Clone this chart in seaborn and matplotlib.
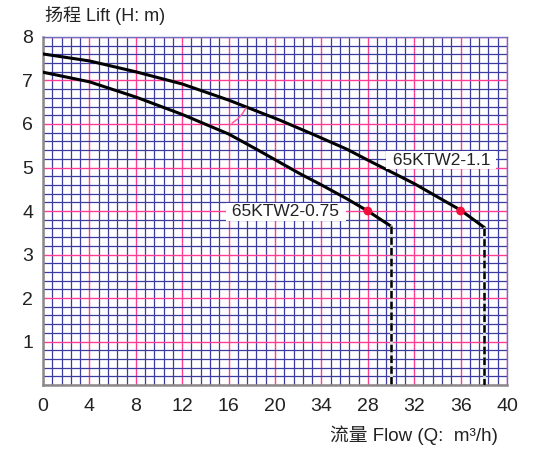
import numpy as np
import pandas as pd
import seaborn as sns
import matplotlib
matplotlib.use("Agg")
import matplotlib.pyplot as plt

# curve data (Q in m3/h, H in m)
q_075 = [0, 4, 8, 12, 16, 18.4, 20.4, 22.2, 24, 26.2, 28, 30.0]
h_075 = [7.19, 6.97, 6.62, 6.22, 5.77, 5.42, 5.12, 4.85, 4.6, 4.28, 4.0, 3.65]
q_11 = [0, 4, 8, 12, 16, 20.4, 23.3, 26.2, 28, 32, 36, 38.05]
h_11 = [7.61, 7.45, 7.2, 6.92, 6.55, 6.09, 5.76, 5.42, 5.17, 4.63, 4.02, 3.62]
cutoff_q = [30.0, 38.05]
cutoff_h = [3.65, 3.62]
duty_q = [28, 36]
duty_h = [4.0, 4.0]
labels = ["65KTW2-0.75", "65KTW2-1.1"]
label_pos = [(15.9, 3.98), (29.7, 5.17)]
xtick_vals = [0, 4, 8, 12, 16, 20, 24, 28, 32, 36, 40]
xtick_text = ["0", "4", "8", "12", "16", "20", "34", "28", "32", "36", "40"]
ytick_vals = [0, 1, 2, 3, 4, 5, 6, 7, 8]
ytick_text = ["", "1", "2", "3", "4", "5", "6", "7", "8"]

sns.set_style("white")
plt.rcParams["font.family"] = ["Liberation Sans", "Noto Sans CJK SC", "DejaVu Sans"]

fig = plt.figure(figsize=(5.36, 4.5), dpi=100)
ax = fig.add_axes([0.0802, 0.1444, 0.8657, 0.7734])

df = pd.concat([
    pd.DataFrame({"Q": q_075, "H": h_075, "model": labels[0]}),
    pd.DataFrame({"Q": q_11, "H": h_11, "model": labels[1]}),
])
sns.lineplot(data=df, x="Q", y="H", units="model", estimator=None, sort=False,
             color="black", lw=2.2, ax=ax, zorder=4)

for q, h in zip(cutoff_q, cutoff_h):
    ax.plot([q, q], [h, 0], color="#dddddd", lw=2.0, zorder=4)
    ax.plot([q, q], [h, 0], color="black", lw=1.8, ls=(0, (3, 1.3)), zorder=5)

sns.scatterplot(x=duty_q, y=duty_h, color="#f0103c", s=40, edgecolor="none",
                ax=ax, zorder=6)

# little pink leader line
ax.plot([16.3, 16.8, 17.2, 17.5], [6.02, 6.12, 6.24, 6.37], color="#ff5a9a", lw=1.1, zorder=4)

for txt, (x, y) in zip(labels, label_pos):
    ax.text(x, y, " " + txt + " ", fontsize=12.5, color="#222222", va="center", ha="left",
            bbox=dict(facecolor="white", edgecolor="none", pad=1.0), zorder=7)

ax.set_xlim(0, 40)
ax.set_ylim(0, 8)
ax.set_xticks(xtick_vals)
ax.set_xticklabels(xtick_text)
ax.set_yticks(ytick_vals)
ax.set_yticklabels(ytick_text)
ax.set_xticks(np.linspace(0, 40, 51), minor=True)
ax.set_yticks(np.linspace(0, 8, 41), minor=True)
ax.tick_params(which="both", length=0)
ax.tick_params(axis="x", labelsize=14, pad=9, colors="#222222")
ax.tick_params(axis="y", labelsize=14, pad=7, colors="#222222")
ax.grid(which="minor", color="#3b3ba0", lw=0.9)
ax.grid(which="major", color="#ff3d95", lw=1.0)
ax.set_axisbelow(True)
ax.set_xlabel("")
ax.set_ylabel("")

for side in ["left", "bottom"]:
    ax.spines[side].set_color("#8a8a8a")
    ax.spines[side].set_linewidth(1.8)
for side in ["top", "right"]:
    ax.spines[side].set_color("#6f6fbf")
    ax.spines[side].set_linewidth(1.0)

fig.text(45 / 536, 1 - 16 / 450, "扬程 Lift (H: m)", fontsize=13, color="#222222",
         ha="left", va="center")
fig.text(498 / 536, 1 - 435 / 450, "流量 Flow (Q:  m³/h)", fontsize=13.5, color="#222222",
         ha="right", va="center")

fig.savefig("out.png", dpi=100, facecolor="white")
